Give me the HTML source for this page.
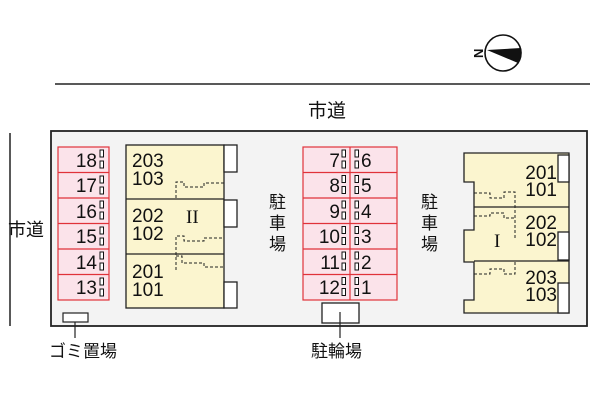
<!DOCTYPE html>
<html><head><meta charset="utf-8"><style>
html,body{margin:0;padding:0;background:#fff;width:600px;height:400px;overflow:hidden}
text{font-family:"Liberation Sans","Noto Sans CJK JP",sans-serif;fill:#111}
text.rn{font-family:"Liberation Serif",serif}
</style></head><body>
<svg width="600" height="400" viewBox="0 0 600 400" xmlns="http://www.w3.org/2000/svg">
<line x1="55" y1="84" x2="590" y2="84" stroke="#222" stroke-width="1.5"/>
<text x="308" y="117" font-size="19">市道</text>
<line x1="10" y1="133" x2="10" y2="326" stroke="#222" stroke-width="1.5"/>
<text x="8" y="236" font-size="18">市道</text>
<circle cx="503" cy="53" r="18" fill="#fff" stroke="#111" stroke-width="1.6"/>
<path d="M487 50 L521 48 A18 18 0 0 1 518 63 Z" fill="#111"/>
<text x="472" y="57" font-size="13" font-weight="bold" transform="rotate(-90 478 52)">N</text>
<rect x="51" y="131" width="536" height="195" fill="#f3f3f3" stroke="#222" stroke-width="1.8"/>
<g stroke="#e0333a" stroke-width="1.2" fill="#fbe3ea">
<rect x="58" y="147" width="51" height="153"/>
<line x1="58" y1="172.5" x2="109" y2="172.5"/><line x1="58" y1="198" x2="109" y2="198"/>
<line x1="58" y1="223.5" x2="109" y2="223.5"/><line x1="58" y1="249" x2="109" y2="249"/>
<line x1="58" y1="274.5" x2="109" y2="274.5"/>
</g>
<g font-size="19" text-anchor="end">
<text x="97" y="167">18</text><text x="97" y="192">17</text><text x="97" y="218">16</text>
<text x="97" y="243">15</text><text x="97" y="269">14</text><text x="97" y="294">13</text>
</g>
<g fill="#fff" stroke="#111" stroke-width="1">
<rect x="100" y="150" width="3.5" height="7"/><rect x="100" y="161" width="3.5" height="7"/>
<rect x="100" y="176" width="3.5" height="7"/><rect x="100" y="187" width="3.5" height="7"/>
<rect x="100" y="201" width="3.5" height="7"/><rect x="100" y="212" width="3.5" height="7"/>
<rect x="100" y="227" width="3.5" height="7"/><rect x="100" y="238" width="3.5" height="7"/>
<rect x="100" y="252" width="3.5" height="7"/><rect x="100" y="263" width="3.5" height="7"/>
<rect x="100" y="278" width="3.5" height="7"/><rect x="100" y="289" width="3.5" height="7"/>
</g>
<rect x="126" y="145" width="98" height="163" fill="#fbf5cf" stroke="#222" stroke-width="1.3"/>
<line x1="126" y1="199" x2="224" y2="199" stroke="#222" stroke-width="1.3"/>
<line x1="126" y1="254" x2="224" y2="254" stroke="#222" stroke-width="1.3"/>
<g fill="#fff" stroke="#222" stroke-width="1.3">
<rect x="224" y="145" width="13" height="27"/><rect x="224" y="200" width="13" height="27"/><rect x="224" y="282" width="13" height="26"/>
</g>
<g fill="none" stroke="#222" stroke-width="1" stroke-dasharray="3,2">
<path d="M176 198 V182 H184 V187 H204 V183 H224"/>
<path d="M176 270 V236 H184 V241 H204 V238 H224"/>
<path d="M176 256 H182 V263 H204 V267 H224"/>
</g>
<g font-size="19"><text x="132" y="167">203</text><text x="132" y="185">103</text>
<text x="132" y="222">202</text><text x="132" y="240">102</text>
<text x="132" y="278">201</text><text x="132" y="296">101</text></g>
<text class="rn" x="186" y="223" font-size="19">II</text>
<g stroke="#e0333a" stroke-width="1.2" fill="#fbe3ea">
<rect x="303" y="147" width="94" height="153"/>
<line x1="350" y1="147" x2="350" y2="300"/>
<line x1="303" y1="172.5" x2="397" y2="172.5"/><line x1="303" y1="198" x2="397" y2="198"/>
<line x1="303" y1="223.5" x2="397" y2="223.5"/><line x1="303" y1="249" x2="397" y2="249"/>
<line x1="303" y1="274.5" x2="397" y2="274.5"/>
</g>
<g font-size="19" text-anchor="end">
<text x="340" y="167">7</text><text x="340" y="192">8</text><text x="340" y="218">9</text>
<text x="340" y="243">10</text><text x="340" y="269">11</text><text x="340" y="294">12</text>
</g>
<g font-size="19">
<text x="361" y="167">6</text><text x="361" y="192">5</text><text x="361" y="218">4</text>
<text x="361" y="243">3</text><text x="361" y="269">2</text><text x="361" y="294">1</text>
</g>
<g fill="#fff" stroke="#111" stroke-width="1">
<g id="pr"><rect x="342" y="150" width="3.5" height="7"/><rect x="342" y="161" width="3.5" height="7"/>
<rect x="355" y="150" width="3.5" height="7"/><rect x="355" y="161" width="3.5" height="7"/></g>
<use href="#pr" y="25.5"/><use href="#pr" y="51"/><use href="#pr" y="76.5"/><use href="#pr" y="102"/><use href="#pr" y="127.5"/>
</g>
<rect x="322" y="303" width="37" height="20" fill="#fff" stroke="#222" stroke-width="1.3"/>
<line x1="340" y1="312" x2="340" y2="338" stroke="#222" stroke-width="1.2"/>
<text x="311" y="357" font-size="17">駐輪場</text>
<g font-size="17"><text x="269" y="208">駐</text><text x="269" y="229">車</text><text x="269" y="250">場</text>
<text x="421" y="208">駐</text><text x="421" y="229">車</text><text x="421" y="250">場</text></g>
<path d="M464 153 H569 V313 H464 V300 H474 V262 H464 V230 H474 V182 H464 Z" fill="#fbf5cf" stroke="#222" stroke-width="1.3"/>
<line x1="474" y1="207" x2="569" y2="207" stroke="#222" stroke-width="1.3"/>
<line x1="474" y1="261" x2="569" y2="261" stroke="#222" stroke-width="1.3"/>
<g fill="#fff" stroke="#222" stroke-width="1.3">
<rect x="558" y="155" width="11" height="27"/><rect x="558" y="232" width="11" height="28"/><rect x="558" y="283" width="11" height="30"/>
</g>
<g fill="none" stroke="#222" stroke-width="1" stroke-dasharray="3,2">
<path d="M474 193 H490 V198 H504 V192 H515 V240"/>
<path d="M474 216 H490 V213 H504 V218 H515"/>
<path d="M474 274 H490 V269 H504 V274 H515 V262"/>
</g>
<g font-size="19" text-anchor="end"><text x="557" y="179">201</text><text x="557" y="196">101</text>
<text x="557" y="229">202</text><text x="557" y="246">102</text>
<text x="557" y="284">203</text><text x="557" y="301">103</text></g>
<text class="rn" x="494" y="247" font-size="19">I</text>
<rect x="63" y="313" width="25" height="9" fill="#fff" stroke="#222" stroke-width="1.2"/>
<line x1="75" y1="322" x2="75" y2="338" stroke="#222" stroke-width="1.2"/>
<text x="49" y="357" font-size="17">ゴミ置場</text>
</svg>
</body></html>
